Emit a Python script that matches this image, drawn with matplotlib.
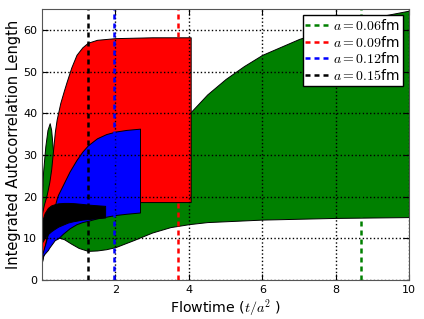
import matplotlib
matplotlib.use("Agg")
import matplotlib.pyplot as plt

plt.rcParams["mathtext.fontset"] = "cm"

# a = 0.06 fm band
t_06 = [0, 0.03, 0.09, 0.15, 0.21, 0.25, 0.28, 0.32, 0.45, 0.6, 0.8, 1.0, 1.25, 1.5,
        1.75, 2.0, 2.5, 3.0, 3.5, 4.0, 4.5, 5.0, 5.5, 6.0, 7.0, 8.0, 9.0, 10.0]
hi_06 = [20, 26, 32, 36, 37.6, 36, 33, 29, 27.5, 27.5, 27.5, 28, 28.5, 29.5,
         30.5, 31.5, 33.5, 35.5, 37.5, 39.8, 44.5, 48.2, 51.3, 54, 57.8, 60.7, 62.9, 64.6]
lo_06 = [4.4, 5.6, 7.3, 8.4, 9.1, 9.4, 9.7, 9.9, 10.2, 9.8, 8.7, 7.7, 7.0, 7.1,
         7.4, 7.9, 9.6, 11.4, 12.7, 13.4, 13.9, 14.1, 14.3, 14.5, 14.7, 14.9, 15.0, 15.1]

# a = 0.09 fm band
t_09 = [0, 0.05, 0.13, 0.2, 0.25, 0.3, 0.35, 0.4, 0.5, 0.6, 0.67, 0.8, 0.94, 1.1, 1.25,
        1.5, 2.0, 2.5, 3.0, 3.5, 4.05]
hi_09 = [16, 18, 20.5, 23.5, 26.5, 31, 35.5, 38.5, 42.5, 45.5, 47.5, 51, 54, 55.8, 56.9,
         57.6, 58.0, 58.1, 58.2, 58.2, 58.2]
lo_09 = [4.4, 7, 10.5, 12.5, 13.5, 14.5, 15.3, 15.9, 16.6, 17.1, 17.4, 17.8, 18.1, 18.3, 18.4,
         18.55, 18.65, 18.7, 18.7, 18.7, 18.7]

# a = 0.12 fm band
t_12 = [0, 0.1, 0.16, 0.2, 0.3, 0.35, 0.4, 0.44, 0.57, 0.75, 0.94, 1.1, 1.25, 1.5,
        1.75, 2.0, 2.3, 2.67]
hi_12 = [6, 9, 11, 12.5, 16, 17.8, 19.5, 20.5, 22.8, 26, 28.8, 30.8, 32.3, 34,
         35, 35.6, 36, 36.3]
lo_12 = [5.6, 6.6, 7.2, 7.8, 9.0, 9.6, 9.8, 10.0, 11.1, 12.4, 13.4, 13.9, 14.2, 14.8,
         15.2, 15.6, 15.9, 16.2]

# a = 0.15 fm band
t_15 = [0, 0.07, 0.16, 0.25, 0.35, 0.44, 0.6, 0.71, 0.85, 0.98, 1.1, 1.25, 1.4, 1.55, 1.72]
hi_15 = [14, 16, 17.3, 17.9, 18.2, 18.4, 18.5, 18.5, 18.45, 18.35, 18.25, 18.1, 18.0, 17.9, 17.8]
lo_15 = [9, 10, 11, 11.7, 12.3, 12.8, 13.4, 13.8, 14.1, 14.3, 14.5, 14.6, 14.75, 14.9, 15.0]

spacings = ["0.06", "0.09", "0.12", "0.15"]
colors = ["green", "red", "blue", "black"]
marker_t = [8.69, 3.70, 1.96, 1.26]

bands = [(t_06, lo_06, hi_06), (t_09, lo_09, hi_09),
         (t_12, lo_12, hi_12), (t_15, lo_15, hi_15)]

fig = plt.figure(figsize=(4.24, 3.19), dpi=100)
ax = fig.add_axes([0.099, 0.122, 0.866, 0.850])

for (t, lo, hi), col in zip(bands, colors):
    ax.fill_between(t, lo, hi, facecolor=col, edgecolor="k", linewidth=0.7)

for a, col, tm in zip(spacings, colors, marker_t):
    ax.axvline(tm, color=col, linestyle="--", linewidth=1.8, dashes=(2.0, 1.6),
               label=r"$a=%s$fm" % a)

ax.set_xlim(0, 10)
ax.set_ylim(0, 65)
ax.set_xticks([2, 4, 6, 8, 10])
ax.set_yticks([0, 10, 20, 30, 40, 50, 60])
ax.grid(True, color="k", linestyle=":", linewidth=1)
ax.tick_params(labelsize=8, direction="in", top=True, right=True, length=4)
for s in ax.spines.values():
    s.set_color("#555555")

ax.set_xlabel(r"Flowtime ($t/a^2$ )", fontsize=10.2, labelpad=2)
ax.set_ylabel("Integrated Autocorrelation Length", fontsize=10.5, labelpad=1.5)

leg = ax.legend(loc="upper right", fontsize=10, handlelength=1.6,
                labelspacing=0.12, borderpad=0.2, handletextpad=0.4,
                borderaxespad=0.45, fancybox=False, framealpha=1)
leg.get_frame().set_edgecolor("k")

fig.savefig("out.png", dpi=100)
